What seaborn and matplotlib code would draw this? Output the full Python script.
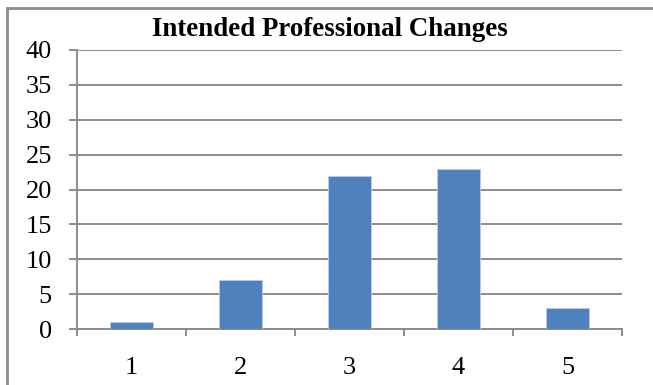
import matplotlib
matplotlib.use("Agg")
import matplotlib.pyplot as plt
import seaborn as sns
import pandas as pd
from matplotlib.patches import Rectangle

categories = ["1", "2", "3", "4", "5"]
values = [1, 7, 22, 23, 3]
title = "Intended Professional Changes"
yticks = [0, 5, 10, 15, 20, 25, 30, 35, 40]

sns.set_style("white")
plt.rcParams['font.family'] = ['Liberation Serif', 'DejaVu Serif']
plt.rcParams['text.color'] = 'black'

W, H = 653, 385
fig = plt.figure(figsize=(W / 100, H / 100), dpi=100)
ax = fig.add_axes([77 / W, 1 - 329 / H, (622 - 77) / W, (329 - 50) / H])

df = pd.DataFrame({"cat": categories, "val": values})
sns.barplot(data=df, x="cat", y="val", color="#4F81BD", width=0.4,
            edgecolor="#B9CDE5", linewidth=0.6, saturation=1, ax=ax, zorder=3)

ax.set_ylim(0, 40)
ax.set_xlim(-0.5, 4.5)
ax.set_yticks(yticks)
ax.set_yticklabels([str(t) for t in yticks])
ax.yaxis.grid(True, color="#8C8C8C", linewidth=1.4, zorder=0)
ax.set_axisbelow(True)
ax.set_xlabel("")
ax.set_ylabel("")

for s in ["top", "right"]:
    ax.spines[s].set_visible(False)
for s in ["left", "bottom"]:
    ax.spines[s].set_visible(True)
    ax.spines[s].set_color("#8C8C8C")
    ax.spines[s].set_linewidth(1.4)

ax.set_xticks([-0.5, 0.5, 1.5, 2.5, 3.5, 4.5], minor=False)
ax.set_xticklabels([""] * 6)
ax.set_xticks(range(5), minor=True)
ax.set_xticklabels(categories, minor=True)
ax.tick_params(axis="x", which="major", direction="out", length=5, width=1.4,
               color="#8C8C8C", bottom=True)
ax.tick_params(axis="x", which="minor", length=0, pad=20, labelsize=19,
               labelcolor="black")
ax.tick_params(axis="y", direction="out", length=6, width=1.4, color="#8C8C8C",
               left=True, pad=12, labelsize=19, labelcolor="black")

fig.text(330 / W, 1 - 30 / H, title, ha="center", va="center",
         fontsize=19.4, fontweight="bold", color="black")

fig.patches.append(Rectangle((7 / W, -0.2), 1.5, 1 - 8 / H + 0.2,
                             transform=fig.transFigure, fill=False,
                             edgecolor="#8C8C8C", linewidth=2.0, zorder=10))

fig.savefig("out.png", dpi=100)
